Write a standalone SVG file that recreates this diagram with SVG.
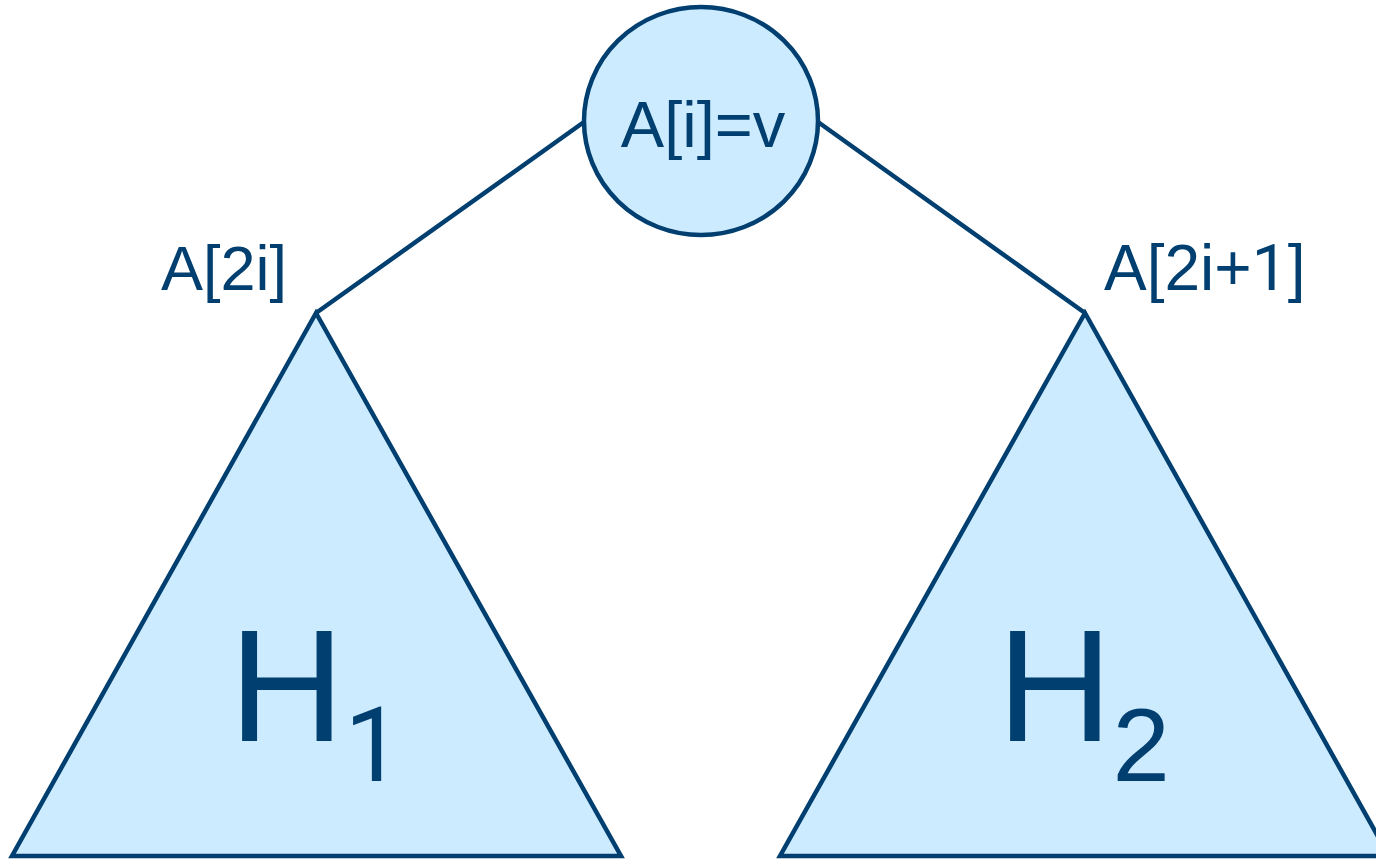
<svg xmlns="http://www.w3.org/2000/svg" width="1376" height="859" viewBox="0 0 1376 859">
<style>
.shape{fill:#CCEBFF;stroke:#003F6F;stroke-width:4.5;stroke-linejoin:miter}
.edge{stroke:#003F6F;stroke-width:4.5;fill:none}
.t{font-family:"Liberation Sans",Arial,sans-serif;fill:#003F6F}
.one{font-family:Roboto,"Liberation Sans",sans-serif}
</style>
<rect width="1376" height="859" fill="#FFFFFF"/>
<g id="connectors">
<line class="edge" x1="584" y1="122" x2="316" y2="313"/>
<line class="edge" x1="818" y1="122" x2="1085" y2="313"/>
</g>
<g id="root">
<ellipse class="shape" cx="701" cy="121" rx="117" ry="114"/>
<text class="t" x="703" y="147" font-size="65" text-anchor="middle">A[i]=v</text>
</g>
<g id="left">
<polygon class="shape" points="316,313 12,856 621,856"/>
<text class="t" x="229" y="741" font-size="160">H<tspan class="one" font-size="103" dy="40">1</tspan></text>
</g>
<g id="right">
<polygon class="shape" points="1085,313 780,856 1389,856"/>
<text class="t" x="997" y="741" font-size="160">H<tspan font-size="103" dy="40">2</tspan></text>
</g>
<g id="labels">
<text class="t" x="161" y="290" font-size="63">A[2i]</text>
<text class="t" x="1104" y="290" font-size="64">A[2i+<tspan class="one">1</tspan>]</text>
</g>
</svg>
